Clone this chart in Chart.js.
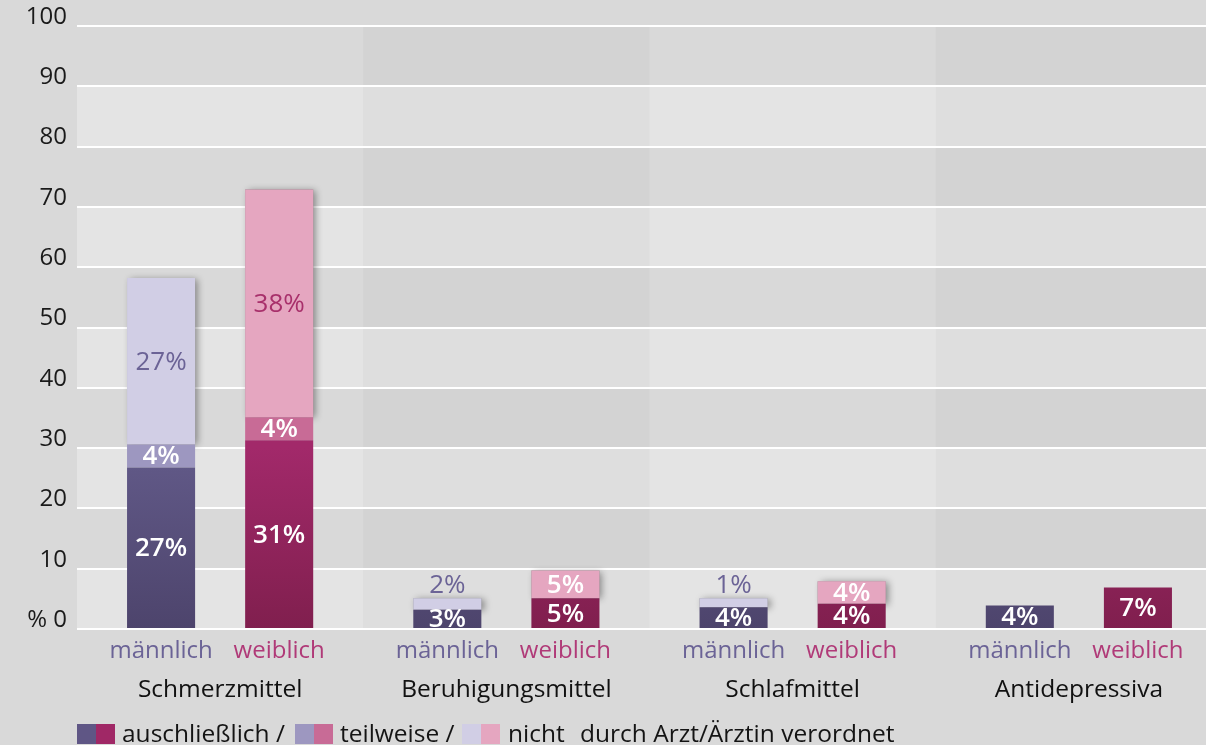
<!DOCTYPE html>
<html>
<head>
<meta charset="utf-8">
<script src="https://cdn.jsdelivr.net/npm/chart.js@4"></script>
<style>
  html, body { margin:0; padding:0; background:#d9d9d9; overflow:hidden; width:1206px; height:745px; }
  #wrap { position:relative; width:1206px; height:745px; overflow:hidden; }
  canvas { position:absolute; left:0; top:0; }
  .sw { position:absolute; top:724px; width:19px; height:20px; }
  .lt { position:absolute; top:717px; font-family:"Open Sans", sans-serif; font-size:24.5px; line-height:31px; color:#141414; white-space:pre; }
</style>
</head>
<body>
<div id="wrap">
<canvas id="c" width="1222" height="745"></canvas>
<div class="sw" style="left:77px;background:#5f5685"></div><div class="sw" style="left:96px;background:#a02866"></div>
<span class="lt" style="left:122px">auschließlich /</span>
<div class="sw" style="left:295px;background:#9d97c0"></div><div class="sw" style="left:314px;background:#c86b96"></div>
<span class="lt" style="left:340px">teilweise /</span>
<div class="sw" style="left:462px;background:#d1cee5"></div><div class="sw" style="left:481px;background:#e5a6c0"></div>
<span class="lt" style="left:508px">nicht</span>
<span class="lt" style="left:580px">durch Arzt/Ärztin verordnet</span>
</div>
<script>
// ---- data ----
const categories = ['Schmerzmittel', 'Beruhigungsmittel', 'Schlafmittel', 'Antidepressiva'];
const genderLabels = ['männlich', 'weiblich'];
const maleExclusive   = [26.8, 3.2, 3.6, 3.9];
const malePartial     = [3.8, 0, 0, 0];
const maleNot         = [27.6, 1.9, 1.5, 0];
const femaleExclusive = [31.3, 5.1, 4.2, 6.9];
const femalePartial   = [3.8, 0, 0, 0];
const femaleNot       = [37.8, 4.6, 3.7, 0];
const maleExclusiveLabels   = ['27%', '3%', '4%', '4%'];
const malePartialLabels     = ['4%', '', '', ''];
const maleNotLabels         = ['27%', '2%', '1%', ''];
const femaleExclusiveLabels = ['31%', '5%', '4%', '7%'];
const femalePartialLabels   = ['4%', '', '', ''];
const femaleNotLabels       = ['38%', '5%', '4%', ''];
const yTickValues = [0, 10, 20, 30, 40, 50, 60, 70, 80, 90, 100];
const yTickLabels = ['% 0', '10', '20', '30', '40', '50', '60', '70', '80', '90', '100'];

const FONT = '"Open Sans", sans-serif';
const MALE_TXT = '#6b6396', FEMALE_TXT = '#b03a78';

function gradFill(top, bottom) {
  return (c) => {
    const ch = c.chart; const a = ch.chartArea;
    if (!a) return bottom;
    const y = ch.scales.y;
    const g = ch.ctx.createLinearGradient(0, y.getPixelForValue(30), 0, y.getPixelForValue(0));
    g.addColorStop(0, top); g.addColorStop(1, bottom);
    return g;
  };
}

const datasets = [
  { key:'mE', data: maleExclusive, labels: maleExclusiveLabels, stack:'m', backgroundColor: gradFill('#625a89', '#4d446c') },
  { key:'mP', data: malePartial, labels: malePartialLabels, stack:'m', backgroundColor: '#9d97c0' },
  { key:'mN', data: maleNot, labels: maleNotLabels, stack:'m', backgroundColor: '#d1cee5' },
  { key:'fE', data: femaleExclusive, labels: femaleExclusiveLabels, stack:'f', backgroundColor: gradFill('#a2296a', '#801f4e') },
  { key:'fP', data: femalePartial, labels: femalePartialLabels, stack:'f', backgroundColor: '#c86b96' },
  { key:'fN', data: femaleNot, labels: femaleNotLabels, stack:'f', backgroundColor: '#e5a6c0' },
].map(d => Object.assign(d, { borderWidth:0, categoryPercentage: 236/286, barPercentage: 68/118 }));

const bgPlugin = {
  id:'bg',
  beforeDraw(chart) {
    const {ctx, chartArea:a, scales:{x, y}} = chart;
    ctx.save();
    const n = categories.length;
    const w = (a.right - a.left) / n;
    for (let i = 0; i < n; i++) {
      for (let k = 0; k < 10; k++) {
        const yt = y.getPixelForValue((k + 1) * 10), yb = y.getPixelForValue(k * 10);
        const light = (k % 2 === 0);
        const odd = (i % 2 === 1);
        ctx.fillStyle = light ? (odd ? '#dedede' : '#e4e4e4') : (odd ? '#d3d3d3' : '#d9d9d9');
        ctx.fillRect(a.left + i * w, yt, w + 0.5, yb - yt);
      }
    }
    ctx.restore();
  }
};

const shadowPlugin = {
  id:'shadow',
  beforeDatasetsDraw(chart) {
    const {ctx, chartArea:a} = chart;
    ctx.save();
    ctx.beginPath(); ctx.rect(a.left, a.top - 20, a.right - a.left, a.bottom - a.top + 20); ctx.clip();
    [[0,1,2],[3,4,5]].forEach(group => {
      categories.forEach((_, i) => {
        let top = Infinity, base = null, x = null, w = null;
        group.forEach(di => {
          const el = chart.getDatasetMeta(di).data[i];
          if (!el) return;
          if (datasets[di].data[i] > 0) { top = Math.min(top, el.y); }
          base = el.base; x = el.x; w = el.width;
        });
        if (top === Infinity) return;
        ctx.shadowColor = 'rgba(0,0,0,0.4)';
        ctx.shadowBlur = 7;
        ctx.shadowOffsetX = 3;
        ctx.shadowOffsetY = 1;
        ctx.fillStyle = '#888';
        ctx.fillRect(x - w / 2, top, w, base - top);
      });
    });
    ctx.restore();
  }
};

const labelPlugin = {
  id:'labels',
  afterDatasetsDraw(chart) {
    const {ctx, chartArea:a} = chart;
    ctx.save();
    ctx.beginPath(); ctx.rect(a.left, 0, a.right - a.left, a.bottom); ctx.clip();
    ctx.textAlign = 'center'; ctx.textBaseline = 'middle';
    datasets.forEach((ds, di) => {
      const meta = chart.getDatasetMeta(di);
      meta.data.forEach((el, i) => {
        const txt = ds.labels[i];
        if (!txt || !(ds.data[i] > 0)) return;
        const h = el.base - el.y;
        const isNot = ds.key.endsWith('N');
        const male = ds.stack === 'm';
        let y = (el.y + el.base) / 2 + 1;
        let color = '#ffffff', weight = '600';
        if (isNot && h < 15) {
          y = el.y - 13; color = male ? MALE_TXT : FEMALE_TXT; weight = '500';
        } else if (isNot && i === 0) {
          color = male ? MALE_TXT : '#a8306b'; weight = '500';
        }
        ctx.font = weight + ' 26px ' + FONT;
        ctx.fillStyle = color;
        ctx.fillText(txt, el.x, y);
      });
    });
    ctx.restore();

    // category axis labels
    ctx.save();
    ctx.textAlign = 'center'; ctx.textBaseline = 'middle';
    const x = chart.scales.x;
    categories.forEach((cat, i) => {
      const mEl = chart.getDatasetMeta(0).data[i];
      const fEl = chart.getDatasetMeta(3).data[i];
      ctx.font = '400 24px ' + FONT;
      ctx.fillStyle = MALE_TXT; ctx.fillText(genderLabels[0], mEl.x, a.bottom + 22);
      ctx.fillStyle = FEMALE_TXT; ctx.fillText(genderLabels[1], fEl.x, a.bottom + 22);
      ctx.fillStyle = '#111';
      ctx.font = '400 24.5px ' + FONT;
      ctx.fillText(cat, x.getPixelForValue(i), a.bottom + 61);
    });
    ctx.restore();
  }
};

new Chart(document.getElementById('c'), {
  type:'bar',
  data:{ labels: categories, datasets },
  options:{
    responsive:false, animation:false,
    layout:{ padding:{ top:26, right:0, left:0, bottom:0 } },
    plugins:{ legend:{ display:false }, tooltip:{ enabled:false } },
    scales:{
      x:{
        stacked:true,
        grid:{ display:false }, border:{ display:false },
        ticks:{ display:false },
        afterFit(s){ s.height = 116; }
      },
      y:{
        stacked:true, min:0, max:100,
        afterFit(s){ s.width = 77; },
        afterBuildTicks(s){ s.ticks = yTickValues.map(v => ({ value:v })); },
        border:{ display:false },
        grid:{ color:'#ffffff', lineWidth:2, drawTicks:false },
        ticks:{
          padding:10, labelOffset:-9,
          color:'#1a1a1a', font:{ family:FONT, size:24 },
          callback(v){ const i = yTickValues.indexOf(v); return i >= 0 ? yTickLabels[i] : ''; }
        }
      }
    }
  },
  plugins:[bgPlugin, shadowPlugin, labelPlugin]
});
</script>
</body>
</html>
